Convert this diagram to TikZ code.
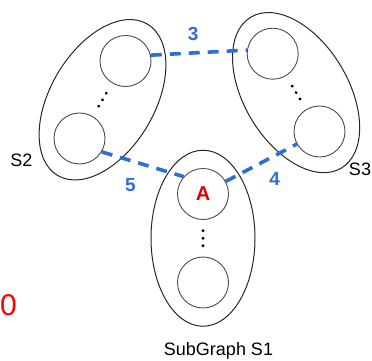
\documentclass[tikz,border=0pt]{standalone}
\usepackage{fontspec}
\setmainfont{Liberation Sans}
\usetikzlibrary{positioning,shapes.geometric,calc}
\definecolor{linkblue}{RGB}{45,110,212}
\definecolor{nodered}{RGB}{225,0,0}

\begin{document}
\begin{tikzpicture}[x=1pt,y=1pt,on grid,
      main node/.style={circle,draw=black!70,line width=0.9pt,minimum size=51pt,inner sep=0pt},
      group/.style={ellipse,draw=black!85,line width=1pt,minimum width=176pt,minimum height=104pt,inner sep=0pt},
      link/.style={color=linkblue,line width=3.6pt,dash pattern=on 11pt off 8pt},
      cost label/.style={font=\fontsize{19}{19}\selectfont\bfseries,inner sep=0pt},
      group label/.style={font=\fontsize{18}{18}\selectfont}]
      \useasboundingbox (0,0) rectangle (372,360);

      % vertices
      \node[main node,text=nodered,font=\fontsize{20}{20}\selectfont\bfseries] (a) at (203,166) {A};
      \node[main node] (s1b) [below=88.5pt of a] {};
      \node[main node] (s2b) [above left=55.5pt and 123.5pt of a] {};
      \node[main node] (s2t) [above right=77.5pt and 46pt of s2b] {};
      \node[main node] (s3b) [above right=62.5pt and 116.5pt of a] {};
      \node[main node] (s3t) [above left=77.8pt and 46.8pt of s3b] {};

      % subgraphs
      \node[group,rotate=90] (s1) at ($(a)!0.5!(s1b)$) {};
      \node[group,rotate=59.3] (s2) at ($(s2b)!0.5!(s2t)$) {};
      \node[group,rotate=121] (s3) at ($(s3b)!0.5!(s3t)$) {};
      \foreach \g/\ang in {s1/90,s2/59.3,s3/121}
        \foreach \d in {-7.5,0,7.5}
          \fill[shift={(\g.center)},rotate=\ang] (\d,0) circle (1.6pt);

      \node[group label,anchor=base] (s1l) at (218.5,4.5) {SubGraph S1};
      \node[group label,anchor=base] (s2l) at (21.5,194) {S2};
      \node[group label,anchor=base] (s3l) at (360,185) {S3};
      \node[text=red,font=\fontsize{30}{30}\selectfont,anchor=base] (zero) at (8.5,45) {0};

      \path[link]
        (s2t.13) edge node[cost label,pos=0.44,above=10pt] {3} (s3t.172)
        (s2b.-31) edge node[cost label,pos=0.35,below=16pt] {5} (a.138)
        (a.29) edge node[cost label,pos=0.69,below=15pt] {4} (s3b.-151);
    \end{tikzpicture}
\end{document}
